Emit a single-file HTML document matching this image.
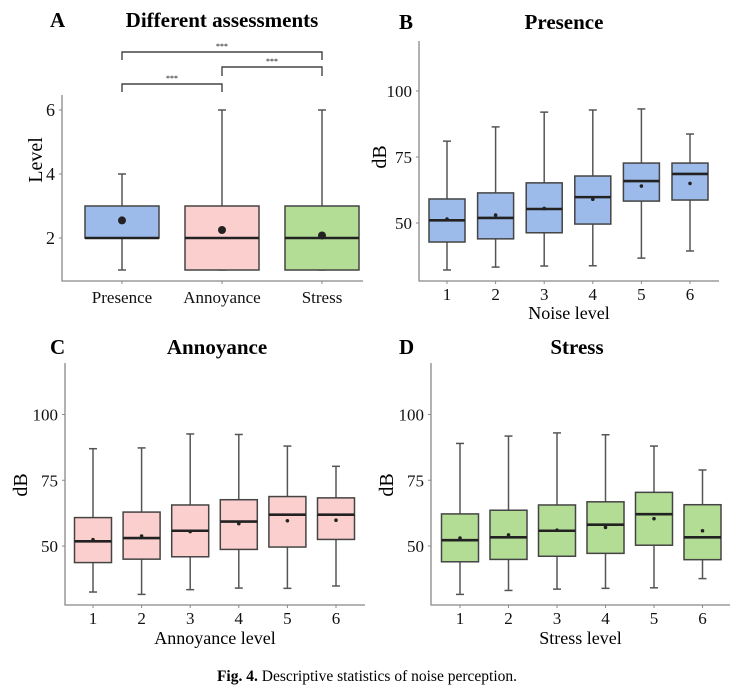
<!DOCTYPE html>
<html><head><meta charset="utf-8">
<style>
html,body{margin:0;padding:0;background:#fff;}
svg{display:block;font-family:"Liberation Serif",serif;}
</style></head>
<body>
<svg id="fig" width="754" height="689" viewBox="0 0 754 689" xmlns="http://www.w3.org/2000/svg">
<text x="367" y="681" font-size="15.5" text-anchor="middle"><tspan font-weight="bold">Fig. 4.</tspan> Descriptive statistics of noise perception.</text>
</svg>
<script>
// Panel A data: Presence, Annoyance, Stress
const aCategories = ["Presence","Annoyance","Stress"];
const aLow  = [1,1,1];
const aQ1   = [2,1,1];
const aMed  = [2,2,2];
const aQ3   = [3,3,3];
const aHigh = [4,6,6];
const aMean = [2.55,2.25,2.08];
const aTicks = [2,4,6];

// Panel B: Presence vs noise level
const levels = ["1","2","3","4","5","6"];
const bLow  = [32.2,33.3,33.7,33.8,36.7,39.4];
const bQ1   = [42.8,44,46.3,49.6,58.3,58.7];
const bMed  = [51,51.9,55.3,59.8,65.9,68.6];
const bQ3   = [59.1,61.4,65.2,67.8,72.7,72.7];
const bHigh = [81,86.4,92,92.8,93.2,83.7];
const bMean = [51.5,53,55.5,59,64,65];

// Panel C: Annoyance
const cLow  = [32.5,31.6,33.4,34,33.9,34.8];
const cQ1   = [43.7,45,45.9,48.7,49.6,52.5];
const cMed  = [51.8,53,55.8,59.3,61.9,61.9];
const cQ3   = [60.8,62.9,65.6,67.6,68.8,68.3];
const cHigh = [87,87.3,92.6,92.4,88,80.3];
const cMean = [52.4,53.8,55.5,58.5,59.6,59.8];

// Panel D: Stress
const dLow  = [31.6,33.1,33.6,33.9,34.1,37.6];
const dQ1   = [44,44.9,46.1,47.2,50.3,44.8];
const dMed  = [52.2,53.3,55.8,58.1,62.1,53.3];
const dQ3   = [62.2,63.6,65.6,66.8,70.4,65.7];
const dHigh = [89,91.8,93,92.3,88,78.9];
const dMean = [53,54.2,56,57.1,60.4,55.8];
const dbTicks = [50,75,100];

const NS="http://www.w3.org/2000/svg";
const svg=document.getElementById('fig');
function el(tag,attrs,parent,txt){const e=document.createElementNS(NS,tag);for(const k in attrs)e.setAttribute(k,attrs[k]);if(txt!==undefined)e.textContent=txt;(parent||svg).appendChild(e);return e;}

function panel(o){
  const g=el('g',{});
  
  
  const y=v=>o.y0+(v-o.v0)*o.k;
  const x=i=>o.xFirst+i*o.step;
  const ax=el('line',{x1:o.axX,y1:o.axTop,x2:o.axX,y2:o.axBot+0.5,stroke:'#888','stroke-width':1.3},g);
  
  
  const bx=el('line',{x1:o.axX,y1:o.axBot,x2:o.axRight,y2:o.axBot,stroke:'#888','stroke-width':1.3},g);
  
  
  o.ticks.forEach(t=>{
    el('line',{x1:o.axX-3,y1:y(t),x2:o.axX,y2:y(t),stroke:'#888','stroke-width':1},g);
    const tl=el('text',{x:o.axX-7,y:y(t)+6,'font-size':o.tickSize,'text-anchor':'end',fill:'#111'},g,String(t));
    
    
  });
  o.cats.forEach((c,i)=>{
    el('line',{x1:x(i),y1:o.axBot,x2:x(i),y2:o.axBot+3,stroke:'#888','stroke-width':1},g);
    const tl=el('text',{x:x(i),y:o.axBot+o.labOff,'font-size':o.catSize,'text-anchor':'middle',fill:'#111'},g,c);
    
    
    const bg=el('g',{},g);
    
    
    const w=o.bw/2;
    el('line',{x1:x(i),y1:y(o.high[i]),x2:x(i),y2:y(o.q3[i]),stroke:'#555','stroke-width':1.5},bg);
    el('line',{x1:x(i),y1:y(o.low[i]),x2:x(i),y2:y(o.q1[i]),stroke:'#555','stroke-width':1.5},bg);
    el('line',{x1:x(i)-o.cap,y1:y(o.high[i]),x2:x(i)+o.cap,y2:y(o.high[i]),stroke:'#555','stroke-width':1.5},bg);
    el('line',{x1:x(i)-o.cap,y1:y(o.low[i]),x2:x(i)+o.cap,y2:y(o.low[i]),stroke:'#555','stroke-width':1.5},bg);
    el('rect',{x:x(i)-w,y:y(o.q3[i]),width:o.bw,height:y(o.q1[i])-y(o.q3[i]),fill:o.color,stroke:'#444','stroke-width':1.5},bg);
    el('line',{x1:x(i)-w,y1:y(o.med[i]),x2:x(i)+w,y2:y(o.med[i]),stroke:'#222','stroke-width':2.6},bg);
    el('circle',{cx:x(i),cy:y(o.mean[i]),r:o.dot,fill:'#222'},bg);
  });
  const t=el('text',{x:o.titleX,y:o.titleY,'font-size':21,'font-weight':'bold','text-anchor':'middle'},g,o.title);
  
  
  const L=el('text',{x:o.letterX,y:o.titleY,'font-size':21,'font-weight':'bold'},g,o.letter);
  
  
  const yt=el('text',{x:0,y:0,'font-size':20,'text-anchor':'middle',transform:'translate('+o.yTitleX+','+o.yTitleY+') rotate(-90)'},g,o.yTitle);
  
  
  if(o.xTitle){
    const xt=el('text',{x:(o.axX+o.axRight)/2,y:o.xTitleY,'font-size':18,'text-anchor':'middle'},g,o.xTitle);
    
    
  }
  return {g,x,y};
}

const A=panel({name:'panel-a',boxPrefix:'a',cats:aCategories,low:aLow,q1:aQ1,med:aMed,q3:aQ3,high:aHigh,mean:aMean,ticks:aTicks,
  y0:238,v0:2,k:-32,xFirst:122,step:100,bw:74,cap:4,dot:4,color:'#9dbbea',tickSize:18,
  axX:62,axTop:95,axBot:281,axRight:363,labOff:22,catSize:17,
  title:'Different assessments',titleX:222,titleY:27,letter:'A',letterX:50,yTitle:'Level',yTitleX:42,yTitleY:160,xTitle:null});
const aColors=['#9dbbea','#fccfcf','#b3dc95'];
A.g.querySelectorAll('rect').forEach((r,i)=>r.setAttribute('fill',aColors[i]));
const brackets=[[0,2,52,60],[1,2,67,76],[0,1,84,92]];
brackets.forEach(b=>{
  const p=el('path',{d:`M${A.x(b[0])},${b[3]} V${b[2]} H${A.x(b[1])} V${b[3]}`,fill:'none',stroke:'#444','stroke-width':1.4},A.g);
  
  
  const s=el('text',{x:(A.x(b[0])+A.x(b[1]))/2,y:b[2]-3,'font-size':8,'text-anchor':'middle'},A.g,'***');
  
  
});

panel({name:'panel-b',boxPrefix:'b',cats:levels,low:bLow,q1:bQ1,med:bMed,q3:bQ3,high:bHigh,mean:bMean,ticks:dbTicks,
  y0:223,v0:50,k:-2.64,xFirst:447,step:48.6,bw:36,cap:4,dot:1.8,color:'#9dbbea',tickSize:17,
  axX:419,axTop:41,axBot:281,axRight:719,labOff:19,catSize:17,
  title:'Presence',titleX:564,titleY:29,letter:'B',letterX:399,yTitle:'dB',yTitleX:386,yTitleY:157,xTitle:'Noise level',xTitleY:319});
panel({name:'panel-c',boxPrefix:'c',cats:levels,low:cLow,q1:cQ1,med:cMed,q3:cQ3,high:cHigh,mean:cMean,ticks:dbTicks,
  y0:546,v0:50,k:-2.63,xFirst:93,step:48.6,bw:37,cap:4,dot:1.8,color:'#fccfcf',tickSize:17,
  axX:65,axTop:363,axBot:605,axRight:365,labOff:19,catSize:17,
  title:'Annoyance',titleX:217,titleY:354,letter:'C',letterX:50,yTitle:'dB',yTitleX:27,yTitleY:485,xTitle:'Annoyance level',xTitleY:644});
panel({name:'panel-d',boxPrefix:'d',cats:levels,low:dLow,q1:dQ1,med:dMed,q3:dQ3,high:dHigh,mean:dMean,ticks:dbTicks,
  y0:546,v0:50,k:-2.63,xFirst:460,step:48.5,bw:37,cap:4,dot:1.8,color:'#b3dc95',tickSize:17,
  axX:431,axTop:363,axBot:605,axRight:730,labOff:19,catSize:17,
  title:'Stress',titleX:577,titleY:354,letter:'D',letterX:399,yTitle:'dB',yTitleX:393,yTitleY:485,xTitle:'Stress level',xTitleY:644});
</script>
</body></html>
